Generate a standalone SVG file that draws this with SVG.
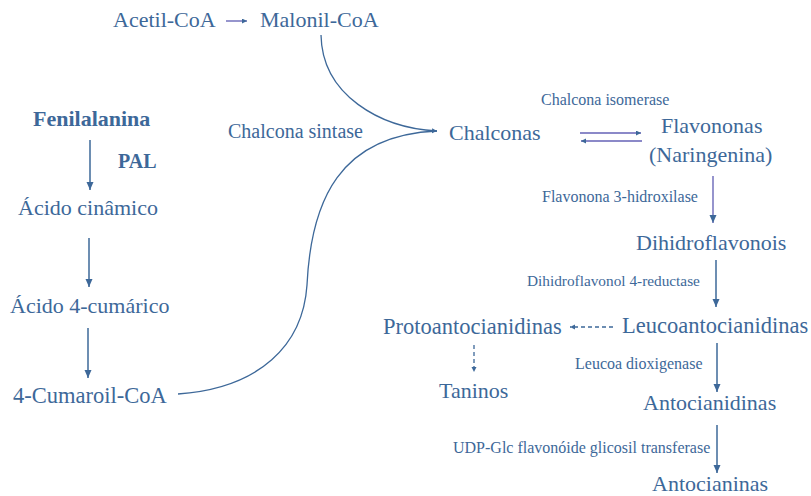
<svg xmlns="http://www.w3.org/2000/svg" width="811" height="496" viewBox="0 0 811 496" font-family="'Liberation Serif', 'Times New Roman', serif">
<style>
text{font-family:"Liberation Serif","Times New Roman",serif;fill:#3d6899}
.m{font-size:22px}
.l{font-size:22.5px}
.e{font-size:16px}
.b{font-weight:bold}
.ln{fill:none;stroke:#3d6899;stroke-width:1.5}
.cv{fill:none;stroke:#3d6899;stroke-width:1.3}
.pu{fill:none;stroke:#8b89c8;stroke-width:1.8}
.da{fill:none;stroke:#3d6899;stroke-width:1.3;stroke-dasharray:4 3}
</style>
<defs>
<marker id="ah" markerUnits="userSpaceOnUse" markerWidth="9" markerHeight="8" refX="8" refY="3.5" orient="auto"><path d="M0,0 L8,3.5 L0,7 z" fill="#3d6899"/></marker>
<marker id="as" markerUnits="userSpaceOnUse" markerWidth="6" markerHeight="6" refX="5" refY="2.5" orient="auto"><path d="M0,0 L5,2.5 L0,5 z" fill="#3d6899"/></marker>
</defs>
<rect width="811" height="496" fill="#ffffff"/>
<g id="connectors">
<line class="pu" x1="226" y1="21" x2="247" y2="21" marker-end="url(#as)"/>
<line class="ln" x1="90" y1="140" x2="90" y2="190" marker-end="url(#ah)"/>
<line class="ln" x1="89" y1="238" x2="89" y2="287" marker-end="url(#ah)"/>
<line class="ln" x1="88" y1="328" x2="88" y2="378" marker-end="url(#ah)"/>
<path class="cv" d="M321,35 C322,95 380,128 437,131" marker-end="url(#as)"/>
<path class="cv" d="M178,394 C260,388 303,345 307,285 C311,200 340,135 437,131"/>
<line class="pu" x1="580" y1="133" x2="641" y2="133" marker-end="url(#as)"/>
<line class="pu" x1="642" y1="141" x2="581" y2="141" marker-end="url(#as)"/>
<line class="pu" x1="713" y1="176" x2="713" y2="223" marker-end="url(#ah)"/>
<line class="ln" x1="716" y1="260" x2="716" y2="307" marker-end="url(#ah)"/>
<line class="da" x1="613" y1="327" x2="570" y2="327" marker-end="url(#as)"/>
<line class="da" x1="474" y1="345" x2="474" y2="372" marker-end="url(#as)"/>
<line class="ln" x1="717" y1="343" x2="717" y2="392" marker-end="url(#ah)"/>
<line class="ln" x1="717" y1="425" x2="717" y2="473" marker-end="url(#ah)"/>
</g>
<g id="acetil"><text class="m" x="113" y="27">Acetil-CoA</text></g>
<g id="malonil"><text class="m" x="260" y="27">Malonil-CoA</text></g>
<g id="fenilalanina"><text class="m b" x="33" y="126">Fenilalanina</text></g>
<g id="pal"><text class="b" style="font-size:20px" x="118" y="168">PAL</text></g>
<g id="cinamico"><text class="m" x="18" y="215">Ácido cinâmico</text></g>
<g id="cumarico"><text class="m" x="10" y="313">Ácido 4-cumárico</text></g>
<g id="cumaroil"><text class="l" x="13" y="403">4-Cumaroil-CoA</text></g>
<g id="sintase"><text style="font-size:20px" x="228" y="138">Chalcona sintase</text></g>
<g id="chalconas"><text class="m" x="449" y="140">Chalconas</text></g>
<g id="isomerase"><text class="e" x="541" y="105">Chalcona isomerase</text></g>
<g id="flavononas"><text class="m" x="661" y="133">Flavononas</text><text class="m" x="649" y="162">(Naringenina)</text></g>
<g id="hidroxilase"><text class="e" x="542" y="202">Flavonona 3-hidroxilase</text></g>
<g id="dihidroflavonois"><text class="m" x="636" y="250">Dihidroflavonois</text></g>
<g id="reductase"><text style="font-size:15.3px" x="527" y="286">Dihidroflavonol 4-reductase</text></g>
<g id="proto"><text class="l" x="383" y="334">Protoantocianidinas</text></g>
<g id="leuco"><text class="l" x="622" y="333">Leucoantocianidinas</text></g>
<g id="taninos"><text class="m" x="439" y="398">Taninos</text></g>
<g id="dioxigenase"><text class="e" x="575" y="369">Leucoa dioxigenase</text></g>
<g id="antocianidinas"><text class="m" x="643" y="410">Antocianidinas</text></g>
<g id="transferase"><text class="e" x="453" y="453">UDP-Glc flavonóide glicosil transferase</text></g>
<g id="antocianinas"><text class="m" x="652" y="491">Antocianinas</text></g>
</svg>
